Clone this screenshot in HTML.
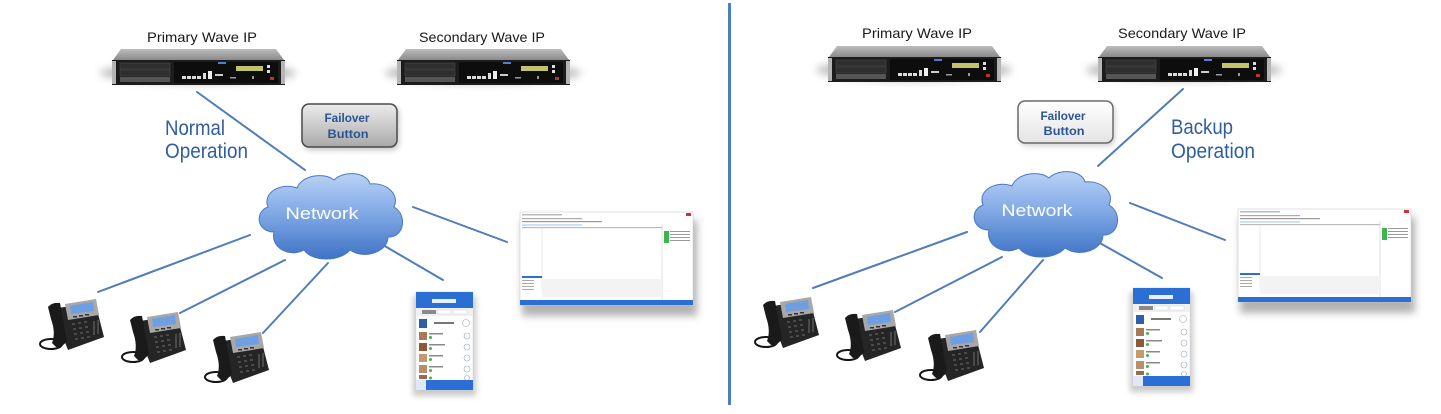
<!DOCTYPE html>
<html><head><meta charset="utf-8">
<style>
html,body{margin:0;padding:0;background:#fff;}
body{width:1441px;height:414px;overflow:hidden;}
svg{display:block;}
text{font-family:"Liberation Sans",Arial,sans-serif;}
</style></head>
<body>
<svg width="1441" height="414" viewBox="0 0 1441 414" xmlns="http://www.w3.org/2000/svg">
<defs>
  <filter id="b4" x="-50%" y="-50%" width="200%" height="200%"><feGaussianBlur stdDeviation="4"/></filter>
  <filter id="b3" x="-50%" y="-50%" width="200%" height="200%"><feGaussianBlur stdDeviation="3"/></filter>
  <linearGradient id="bez" x1="0" y1="0" x2="0" y2="1">
    <stop offset="0" stop-color="#bdbdbd"/><stop offset="1" stop-color="#8a8a8a"/>
  </linearGradient>
  <linearGradient id="cloudg" x1="0" y1="0" x2="0" y2="1">
    <stop offset="0" stop-color="#b9d2f6"/><stop offset="0.45" stop-color="#82aae6"/><stop offset="1" stop-color="#3f73c6"/>
  </linearGradient>
  <linearGradient id="btnL" x1="0" y1="0" x2="0" y2="1">
    <stop offset="0" stop-color="#ececec"/><stop offset="1" stop-color="#a9a9a9"/>
  </linearGradient>
  <linearGradient id="btnR" x1="0" y1="0" x2="0" y2="1">
    <stop offset="0" stop-color="#ffffff"/><stop offset="1" stop-color="#e4e4e4"/>
  </linearGradient>

  <g id="srv">
    <ellipse cx="86" cy="24" rx="98" ry="11" fill="#777" opacity="0.45" filter="url(#b4)"/>
    <polygon points="9,0 164,0 172,11 1,11" fill="url(#bez)"/>
    <rect x="0" y="11" width="173" height="25" fill="#1c1c1c"/>
    <rect x="0" y="12" width="4" height="23" fill="#b5b5b5"/>
    <rect x="169" y="12" width="4" height="23" fill="#b5b5b5"/>
    <rect x="8" y="14" width="50" height="6" fill="#2e2e2e" stroke="#4a4a4a" stroke-width="0.6"/>
    <rect x="8" y="21" width="50" height="6" fill="#2e2e2e" stroke="#4a4a4a" stroke-width="0.6"/>
    <rect x="8" y="28" width="50" height="5" fill="#555"/>
    <rect x="62" y="13" width="104" height="21" fill="#0d0d0d"/>
    <rect x="124" y="17" width="27" height="5" fill="#c2c46c"/>
    <rect x="155" y="16" width="3" height="3" fill="#ddd"/>
    <rect x="155" y="21" width="3" height="3" fill="#ddd"/>
    <rect x="106" y="13" width="8" height="2" fill="#4f7fd0"/>
    <rect x="70" y="27" width="4" height="3" fill="#ddd"/>
    <rect x="75" y="27" width="4" height="3" fill="#ddd"/>
    <rect x="80" y="27" width="4" height="3" fill="#ddd"/>
    <rect x="85" y="27" width="4" height="3" fill="#ddd"/>
    <rect x="91" y="24" width="3" height="6" fill="#ddd"/>
    <rect x="96" y="22" width="4" height="8" fill="#eee"/>
    <rect x="103" y="25" width="8" height="2" fill="#ccc"/>
    <rect x="118" y="28" width="6" height="1.5" fill="#999"/>
    <rect x="140" y="27" width="2" height="3" fill="#999"/>
    <rect x="158" y="28" width="4" height="3" fill="#b33"/>
  </g>

  <g id="phone">
    <ellipse cx="13" cy="47" rx="11" ry="5" fill="none" stroke="#151515" stroke-width="2"/>
    <path d="M14,12 L57,5 L66,40 L30,53 Z" fill="#252525"/>
    <path d="M10,10 Q14,5 22,6 L29,44 Q24,51 18,50 L14,46 Q18,36 13,22 Z" fill="#1a1a1a"/>
    <polygon points="27,7 58,2 61,18 30,23" fill="#a8a8a8"/>
    <polygon points="32,9 55,5 56,14 33,17" fill="#6e9fe2"/>
    <rect x="35" y="19" width="4" height="1.5" fill="#333"/>
    <rect x="41" y="18" width="4" height="1.5" fill="#333"/>
    <rect x="47" y="17" width="4" height="1.5" fill="#333"/>
    <g fill="#4a4a4a">
      <rect x="34" y="26" width="3" height="2"/><rect x="40" y="25" width="3" height="2"/><rect x="46" y="24" width="3" height="2"/>
      <rect x="35" y="31" width="3" height="2"/><rect x="41" y="30" width="3" height="2"/><rect x="47" y="29" width="3" height="2"/>
      <rect x="36" y="36" width="3" height="2"/><rect x="42" y="35" width="3" height="2"/><rect x="48" y="34" width="3" height="2"/>
      <rect x="37" y="41" width="3" height="2"/><rect x="43" y="40" width="3" height="2"/><rect x="49" y="39" width="3" height="2"/>
      <rect x="55" y="24" width="2" height="14"/><rect x="59" y="23" width="2" height="14"/>
    </g>
  </g>

  <g id="mobile">
    <rect x="-3" y="4" width="63" height="100" fill="#666" opacity="0.35" filter="url(#b3)"/>
    <rect x="0" y="0" width="57" height="98" fill="#ffffff" stroke="#d0d0d0" stroke-width="0.5"/>
    <rect x="0" y="0" width="57" height="16" fill="#2c6fd4"/>
    <rect x="16" y="7" width="24" height="4" fill="#e8f0ff"/>
    <rect x="0" y="16" width="57" height="8" fill="#f0f0f0"/>
    <rect x="6" y="18" width="14" height="4" fill="#8a8a8a"/>
    <rect x="22" y="18" width="13" height="4" fill="#fff" stroke="#ccc" stroke-width="0.4"/>
    <rect x="37" y="18" width="14" height="4" fill="#fff" stroke="#ccc" stroke-width="0.4"/>
    <rect x="3" y="27" width="8" height="9" fill="#2d5fa8"/>
    <rect x="18" y="30" width="20" height="2" fill="#777"/>
    <circle cx="50" cy="31" r="3.5" fill="none" stroke="#aaa" stroke-width="0.6"/>
    <g>
      <rect x="3" y="40" width="8" height="8" fill="#a57a55"/>
      <rect x="3" y="51" width="8" height="8" fill="#8a5a3a"/>
      <rect x="3" y="62" width="8" height="8" fill="#c49a70"/>
      <rect x="3" y="73" width="8" height="8" fill="#b88f6a"/>
      <rect x="3" y="83" width="8" height="4" fill="#9c6b48"/>
    </g>
    <g fill="#888">
      <rect x="13" y="41" width="14" height="1.5"/><rect x="13" y="52" width="16" height="1.5"/><rect x="13" y="63" width="14" height="1.5"/><rect x="13" y="74" width="14" height="1.5"/>
    </g>
    <g fill="#3cb54a">
      <circle cx="14.5" cy="45.5" r="1.5"/><circle cx="14.5" cy="56.5" r="1.5"/><circle cx="14.5" cy="67.5" r="1.5"/><circle cx="14.5" cy="78.5" r="1.5"/><circle cx="14.5" cy="86" r="1.5"/>
    </g>
    <g fill="none" stroke="#9ab" stroke-width="0.6">
      <circle cx="51" cy="44" r="3"/><circle cx="51" cy="55" r="3"/><circle cx="51" cy="66" r="3"/><circle cx="51" cy="77" r="3"/><circle cx="51" cy="86" r="2.5"/>
    </g>
    <rect x="0" y="88" width="57" height="10" fill="#2c6fd4"/>
    <rect x="0" y="88" width="10" height="10" fill="#dfe8f6"/>
  </g>

  <g id="desk">
    <rect x="2" y="8" width="175" height="96" fill="#555" opacity="0.45" filter="url(#b4)"/>
    <rect x="0" y="0" width="173" height="93" fill="#ffffff" stroke="#cfcfcf" stroke-width="0.6"/>
    <rect x="2" y="2" width="40" height="1.5" fill="#bbb"/>
    <rect x="166" y="1" width="5" height="3" fill="#c33"/>
    <rect x="2" y="6" width="60" height="1.2" fill="#aaa"/>
    <rect x="2" y="9" width="80" height="1.2" fill="#999"/>
    <rect x="2" y="12" width="60" height="2" fill="#cfdff5"/>
    <rect x="2" y="15" width="140" height="1.2" fill="#bbb"/>
    <line x1="22" y1="16" x2="22" y2="78" stroke="#ddd" stroke-width="0.6"/>
    <line x1="142" y1="12" x2="142" y2="88" stroke="#ccc" stroke-width="0.6"/>
    <rect x="144" y="19" width="5" height="12" fill="#3cb54a"/>
    <rect x="150" y="19" width="20" height="1" fill="#999"/>
    <rect x="150" y="22" width="20" height="1" fill="#999"/>
    <rect x="150" y="25" width="20" height="1" fill="#999"/>
    <rect x="150" y="28" width="20" height="1" fill="#999"/>
    <rect x="2" y="64" width="20" height="2" fill="#2c6fd4"/>
    <rect x="2" y="68" width="12" height="1" fill="#aaa"/><rect x="2" y="71" width="12" height="1" fill="#aaa"/>
    <rect x="2" y="74" width="12" height="1" fill="#aaa"/><rect x="2" y="77" width="12" height="1" fill="#aaa"/>
    <rect x="22" y="67" width="120" height="18" fill="#f3f3f3"/>
    <rect x="0" y="88" width="173" height="5" fill="#2c6fd4"/>
  </g>

  <path id="cloud" d="M22,62 C5,62 2,42 16,37 C10,22 30,12 45,18 C50,5 72,2 82,10 C92,0 115,2 118,14 C135,12 148,25 142,37 C156,45 152,68 136,67 C136,82 112,90 98,80 C88,92 60,92 52,80 C38,88 18,78 22,62 Z"/>
</defs>

<!-- divider -->
<rect x="728" y="3" width="3" height="402" fill="#4a7fc1"/>

<!-- connectors left -->
<g stroke="#4f7cbb" stroke-width="2" stroke-linecap="round">
  <line x1="197" y1="92" x2="305" y2="170"/>
  <line x1="413" y1="207" x2="507" y2="242"/>
  <line x1="383" y1="245" x2="443" y2="280"/>
  <line x1="250" y1="235" x2="98" y2="292"/>
  <line x1="285" y1="260" x2="180" y2="313"/>
  <line x1="328" y1="263" x2="263" y2="333"/>
</g>
<!-- connectors right -->
<g stroke="#4f7cbb" stroke-width="2" stroke-linecap="round">
  <line x1="1183" y1="89" x2="1098" y2="166"/>
  <line x1="1130" y1="203" x2="1225" y2="240"/>
  <line x1="1098" y1="242" x2="1162" y2="278"/>
  <line x1="967" y1="232" x2="813" y2="288"/>
  <line x1="1002" y1="257" x2="895" y2="312"/>
  <line x1="1043" y1="260" x2="980" y2="332"/>
</g>

<!-- servers -->
<use href="#srv" x="112" y="49"/>
<use href="#srv" x="397" y="49"/>
<use href="#srv" x="828" y="46"/>
<use href="#srv" x="1098" y="46"/>

<!-- server labels -->
<g fill="#1a1a1a" font-size="14" text-anchor="middle">
  <text x="202" y="42" textLength="110" lengthAdjust="spacingAndGlyphs">Primary Wave IP</text>
  <text x="482" y="42" textLength="126" lengthAdjust="spacingAndGlyphs">Secondary Wave IP</text>
  <text x="917" y="38" textLength="110" lengthAdjust="spacingAndGlyphs">Primary Wave IP</text>
  <text x="1182" y="38" textLength="128" lengthAdjust="spacingAndGlyphs">Secondary Wave IP</text>
</g>

<!-- operation labels -->
<g fill="#2f5e9e" font-size="21">
  <text x="165" y="135" textLength="60" lengthAdjust="spacingAndGlyphs">Normal</text>
  <text x="165" y="158" textLength="83" lengthAdjust="spacingAndGlyphs">Operation</text>
  <text x="1171" y="134" textLength="62" lengthAdjust="spacingAndGlyphs">Backup</text>
  <text x="1171" y="158" textLength="84" lengthAdjust="spacingAndGlyphs">Operation</text>
</g>

<!-- failover buttons -->
<rect x="304" y="107" width="95" height="43" rx="7" fill="#555" opacity="0.35" filter="url(#b3)"/>
<rect x="302" y="104" width="95" height="43" rx="7" fill="url(#btnL)" stroke="#4a4a4a" stroke-width="1.5"/>
<rect x="1020" y="104" width="95" height="42" rx="7" fill="#666" opacity="0.3" filter="url(#b3)"/>
<rect x="1018" y="101" width="95" height="42" rx="7" fill="url(#btnR)" stroke="#6a6a6a" stroke-width="1.5"/>
<g fill="#2a5596" font-size="12" font-weight="bold" text-anchor="middle">
  <text x="347" y="122" textLength="45" lengthAdjust="spacingAndGlyphs">Failover</text>
  <text x="348" y="138" textLength="41" lengthAdjust="spacingAndGlyphs">Button</text>
  <text x="1063" y="120" textLength="45" lengthAdjust="spacingAndGlyphs">Failover</text>
  <text x="1064" y="135" textLength="41" lengthAdjust="spacingAndGlyphs">Button</text>
</g>

<!-- clouds -->
<g transform="translate(252,170)">
  <use href="#cloud" fill="url(#cloudg)" stroke="#4a78c0" stroke-width="1"/>
</g>
<g transform="translate(967,168)">
  <use href="#cloud" fill="url(#cloudg)" stroke="#4a78c0" stroke-width="1"/>
</g>
<g fill="#ffffff" font-size="17" text-anchor="middle">
  <text x="322" y="219" textLength="73" lengthAdjust="spacingAndGlyphs">Network</text>
  <text x="1037" y="216" textLength="71" lengthAdjust="spacingAndGlyphs">Network</text>
</g>

<!-- phones -->
<use href="#phone" x="38" y="297"/>
<use href="#phone" x="120" y="310"/>
<use href="#phone" x="203" y="330"/>
<use href="#phone" x="753" y="295"/>
<use href="#phone" x="835" y="308"/>
<use href="#phone" x="918" y="328"/>

<!-- mobiles -->
<use href="#mobile" x="416" y="292"/>
<use href="#mobile" x="1133" y="288"/>

<!-- desktops -->
<use href="#desk" x="520" y="212"/>
<use href="#desk" x="1238" y="209"/>
</svg>
</body></html>
